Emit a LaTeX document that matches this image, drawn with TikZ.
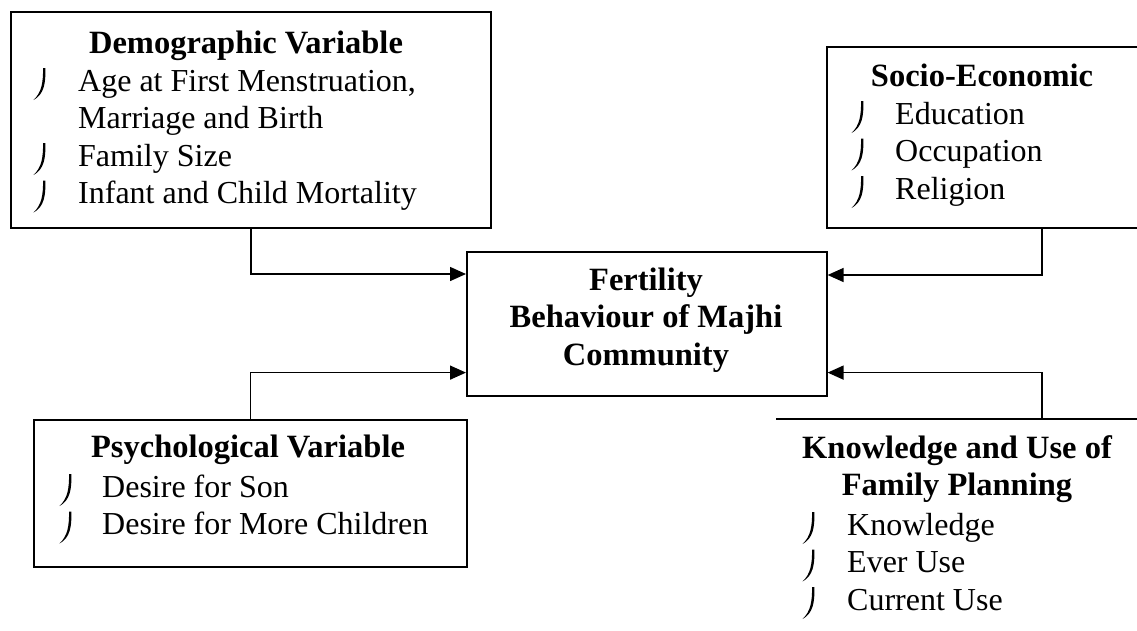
\documentclass[tikz,border=0pt]{standalone}
\usepackage{fontspec}
\setmainfont{Liberation Serif}
\usetikzlibrary{arrows.meta}
\begin{document}
\begin{tikzpicture}[x=1pt,y=-1pt,
  box/.style={draw, line width=1.6pt, inner sep=0pt, anchor=north west},
  arr/.style={line width=1.5pt, -{Triangle[length=16pt,width=14pt]}},
  ttl/.style={font=\fontsize{32.5}{37.5}\selectfont\bfseries, anchor=base, inner sep=0pt},
  itm/.style={font=\fontsize{32}{37.5}\selectfont, anchor=base west, inner sep=0pt},
  hook/.pic={\fill (1.3,-23) .. controls (1.9,-8) and (0,3.5) .. (-10.5,9) .. controls (-2.4,1.4) and (-0.9,-8) .. (-0.9,-23) -- cycle;}
]
\clip (0,0) rectangle (1137,630);
% boxes
\node[box, minimum width=480pt, minimum height=216pt] (demo) at (10,11) {};
\node[box, minimum width=450pt, minimum height=181pt] (socio) at (826,46) {};
\node[box, minimum width=360pt, minimum height=144pt] (center) at (466,251) {};
\node[box, minimum width=433pt, minimum height=147pt] (psych) at (33,419) {};
\node[inner sep=0pt, anchor=north west, minimum width=500pt, minimum height=300pt] (know) at (776,419) {};
\draw[line width=1.6pt] (know.north west) -- (know.north east);
% texts
\node[ttl] (demot) at (246,53) {Demographic Variable};
\node[itm] (demoi) at (78,91) {\begin{tabular}[t]{@{}l@{}}Age at First Menstruation,\\Marriage and Birth\\Family Size\\Infant and Child Mortality\end{tabular}};
\node[ttl] (sociot) at (982,86) {Socio-Economic};
\node[itm] (socioi) at (895,124) {\begin{tabular}[t]{@{}l@{}}Education\\Occupation\\Religion\end{tabular}};
\node[ttl] (centert) at (646,290) {\begin{tabular}[t]{@{}c@{}}Fertility\\Behaviour of Majhi\\Community\end{tabular}};
\node[ttl] (psycht) at (248,457) {Psychological Variable};
\node[itm] (psychi) at (102,497) {\begin{tabular}[t]{@{}l@{}}Desire for Son\\Desire for More Children\end{tabular}};
\node[ttl] (knowt) at (957,458) {\begin{tabular}[t]{@{}c@{}}Knowledge and Use of\\Family Planning\end{tabular}};
\node[itm] (knowi) at (847,535) {\begin{tabular}[t]{@{}l@{}}Knowledge\\Ever Use\\Current Use\end{tabular}};
% bullets
\foreach \p in {(44,91),(44,166),(44,203.5),(862,124),(862,161.5),(862,199),(70,497),(70,534.5),(813,535),(813,572.5),(813,610)}
  \pic at \p {hook};
% connectors
\draw[arr] (demo.south) |- ([yshift=-23pt]center.north west);
\draw[arr] (psych.north) |- ([yshift=24pt]center.south west);
\draw[arr] ([xshift=216pt]socio.south west) |- ([yshift=-24pt]center.north east);
\draw[arr] ([xshift=266pt]know.north west) |- ([yshift=24pt]center.south east);
\end{tikzpicture}
\end{document}
